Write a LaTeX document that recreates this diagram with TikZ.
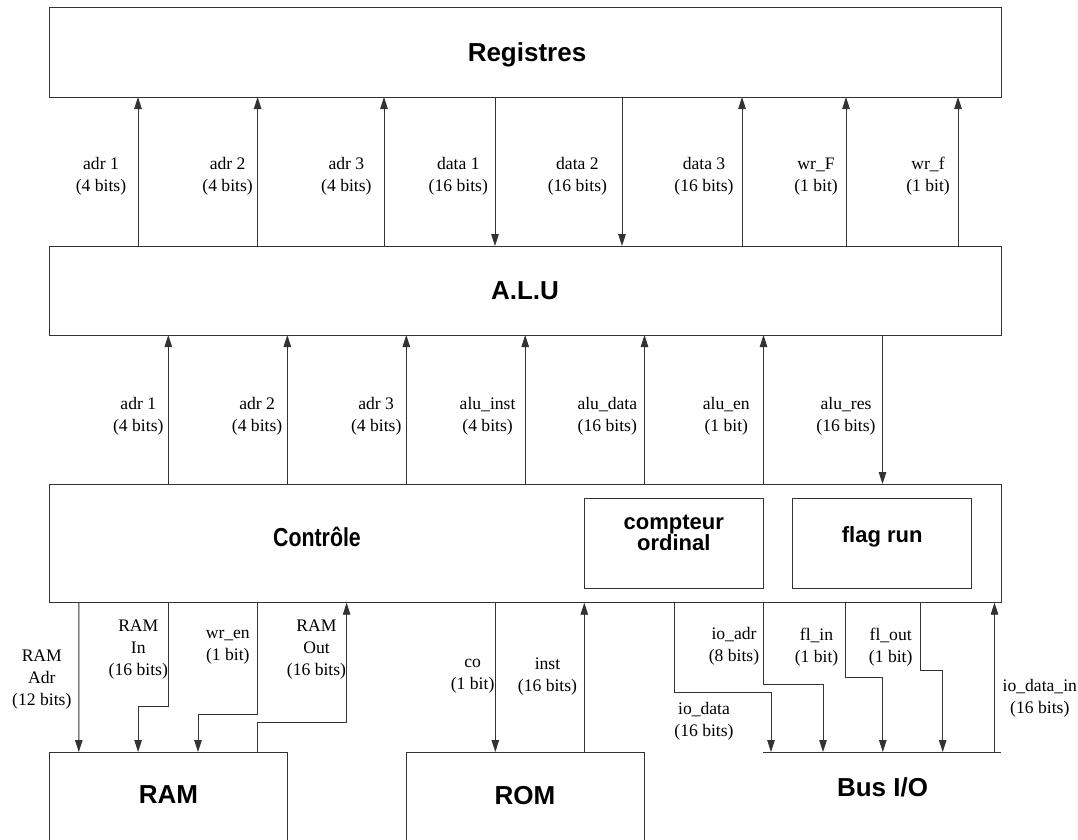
\documentclass[tikz,border=0pt]{standalone}
\usepackage{fontspec}
\setmainfont{Liberation Serif}
\newfontfamily\titlefont{Liberation Sans}
\newfontfamily\narrowfont[FakeStretch=0.82]{Liberation Sans}
\usetikzlibrary{arrows.meta}
\tikzset{
  blk/.style={draw=black!80, line width=0.9pt, rectangle, inner sep=0pt, outer sep=0pt},
  ttl/.style={font=\titlefont\bfseries\fontsize{26}{30}\selectfont, inner sep=0pt},
  ctl/.style={font=\narrowfont\bfseries\fontsize{26}{30}\selectfont, inner sep=0pt},
  sub/.style={font=\titlefont\bfseries\fontsize{22}{21}\selectfont, align=center, inner sep=0pt},
  lbl/.style={font=\fontsize{17.6}{22}\selectfont, align=center, inner sep=0pt},
  wire/.style={draw=black!80, line width=0.9pt},
  arr/.style={wire, -{Triangle[length=12pt,width=7.5pt]}},
}
\begin{document}
\begin{tikzpicture}[x=1pt,y=-1pt]
\useasboundingbox (0,0) rectangle (1078,839);
\clip (0,0) rectangle (1078,839);
\fill[white] (0,0) rectangle (1078,839);

% blocks
\node[blk, minimum width=952pt, minimum height=89.5pt] (reg) at (525,52.25) {};
\node[ttl, anchor=base] (regtxt) at (527,61) {Registres};
\node[blk, ttl, minimum width=952pt, minimum height=89pt] (alu) at (525,290.5) {A.L.U};
\node[blk, minimum width=952pt, minimum height=118.7pt] (ctrl) at (525,543.35) {};
\node[ctl] (ctrltxt) at (317,537) {Contrôle};
\node[blk, minimum width=179pt, minimum height=89.3pt] (cpt) at (673.8,543.35) {};
\node[sub] (cpttxt) at (673.8,532.5) {compteur\\ordinal};
\node[blk, minimum width=179pt, minimum height=89.3pt] (flag) at (882.2,543.35) {};
\node[sub] (flagtxt) at (882.2,536.7) {flag run};
\node[blk, minimum width=238.2pt, minimum height=150pt] (ram) at (168.1,827) {};
\node[ttl, anchor=base] (ramtxt) at (168.4,803.3) {RAM};
\node[blk, minimum width=237.7pt, minimum height=150pt] (rom) at (525.15,827) {};
\node[ttl, anchor=base] (romtxt) at (525,804) {ROM};
\coordinate (busL) at (763.3,752);
\coordinate (busR) at (1001,752);
\draw[wire] (busL) -- (busR);
\node[ttl, anchor=base] (bustxt) at (882.5,796) {Bus I/O};

% Registres <-> ALU
\foreach \o in {89,208.6,335,693,797,909}
  \draw[arr] ([xshift=\o pt]alu.north west) -- ([xshift=\o pt]reg.south west);
\foreach \o in {446,573}
  \draw[arr] ([xshift=\o pt]reg.south west) -- ([xshift=\o pt]alu.north west);

\node[lbl] (t1) at (101,176.5) {adr 1\\(4 bits)};
\node[lbl] (t2) at (227.6,176.5) {adr 2\\(4 bits)};
\node[lbl] (t3) at (346.4,176.5) {adr 3\\(4 bits)};
\node[lbl] (t4) at (458.3,176.5) {data 1\\(16 bits)};
\node[lbl] (t5) at (577.4,176.5) {data 2\\(16 bits)};
\node[lbl] (t6) at (704,176.5) {data 3\\(16 bits)};
\node[lbl] (t7) at (816,176.5) {wr\_F\\(1 bit)};
\node[lbl] (t8) at (928,176.5) {wr\_f\\(1 bit)};

% ALU <-> Controle
\foreach \o in {119.3,238.3,357.3,476.2,595.5,714.5}
  \draw[arr] ([xshift=\o pt]ctrl.north west) -- ([xshift=\o pt]alu.south west);
\draw[arr] ([xshift=833.5pt]alu.south west) -- ([xshift=833.5pt]ctrl.north west);

\node[lbl] (m1) at (138.3,415.8) {adr 1\\(4 bits)};
\node[lbl] (m2) at (257.1,415.8) {adr 2\\(4 bits)};
\node[lbl] (m3) at (376.2,415.8) {adr 3\\(4 bits)};
\node[lbl] (m4) at (487.6,415.8) {alu\_inst\\(4 bits)};
\node[lbl] (m5) at (607.3,415.8) {alu\_data\\(16 bits)};
\node[lbl] (m6) at (726.3,415.8) {alu\_en\\(1 bit)};
\node[lbl] (m7) at (846,415.8) {alu\_res\\(16 bits)};

% Controle <-> RAM
\draw[arr] ([xshift=29.8pt]ctrl.south west) -- ([xshift=29.8pt]ram.north west);
\draw[arr] ([xshift=119.3pt]ctrl.south west) -- ++(0,104) -| ([xshift=89.1pt]ram.north west);
\draw[arr] ([xshift=208.5pt]ctrl.south west) -- ++(0,111.6) -| ([xshift=149pt]ram.north west);
\draw[arr] ([xshift=208.2pt]ram.north west) -- ++(0,-30) -| ([xshift=297.6pt]ctrl.south west);

% Controle <-> ROM
\draw[arr] ([xshift=446.3pt]ctrl.south west) -- ([xshift=89pt]rom.north west);
\draw[arr] ([xshift=178pt]rom.north west) -- ([xshift=535.3pt]ctrl.south west);

% Controle <-> Bus I/O
\draw[arr] ([xshift=625.3pt]ctrl.south west) -- ++(0,89.3) -| ([xshift=7.7pt]busL);
\draw[arr] ([xshift=714.5pt]ctrl.south west) -- ++(0,81.6) -| ([xshift=59.7pt]busL);
\draw[arr] ([xshift=796.5pt]ctrl.south west) -- ++(0,74.6) -| ([xshift=119.5pt]busL);
\draw[arr] ([xshift=871.5pt]ctrl.south west) -- ++(0,67.3) -| ([xshift=179.4pt]busL);
\draw[arr] ([xshift=231.2pt]busL) -- ([xshift=945.5pt]ctrl.south west);

\node[lbl] (b1) at (41.8,679.8) {RAM\\Adr\\(12 bits)};
\node[lbl] (b2) at (138.3,650) {RAM\\In\\(16 bits)};
\node[lbl] (b3) at (227.8,646.8) {wr\_en\\(1 bit)};
\node[lbl] (b4) at (316.5,650) {RAM\\Out\\(16 bits)};
\node[lbl] (b5) at (472.6,675.8) {co\\(1 bit)};
\node[lbl] (b6) at (547.5,677) {inst\\(16 bits)};
\node[lbl] (b7) at (734,646.7) {io\_adr\\(8 bits)};
\node[lbl] (b8) at (816.5,646.7) {fl\_in\\(1 bit)};
\node[lbl] (b9) at (890.7,646.7) {fl\_out\\(1 bit)};
\node[lbl] (b10) at (704,720.8) {io\_data\\(16 bits)};
\node[lbl] (b11) at (1039.8,698.3) {io\_data\_in\\(16 bits)};
\end{tikzpicture}
\end{document}
